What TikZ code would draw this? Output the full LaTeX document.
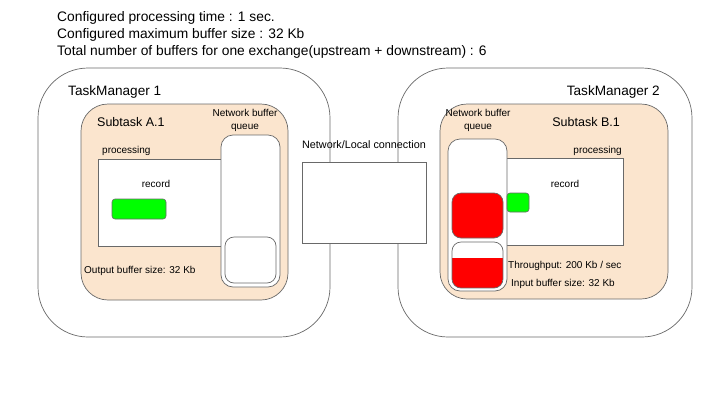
\documentclass[tikz,border=0pt]{standalone}
\usepackage{fontspec}
\setmainfont{Liberation Sans}
\usetikzlibrary{positioning}
\definecolor{peach}{RGB}{251,229,206}
\definecolor{edgegrey}{RGB}{105,105,105}
\definecolor{recgreen}{RGB}{0,255,0}
\definecolor{bufred}{RGB}{255,0,0}
\tikzset{
  tmbox/.style={draw=edgegrey, fill=white, rounded corners=50pt, line width=0.7pt},
  subbox/.style={draw=edgegrey, fill=peach, rounded corners=27pt, line width=0.7pt},
  procbox/.style={draw=edgegrey, fill=white, line width=0.7pt},
  queuebox/.style={draw=edgegrey, fill=white, rounded corners=12pt, line width=0.7pt},
  slotbox/.style={draw=edgegrey, rounded corners=9pt, line width=0.7pt},
  recbox/.style={draw=edgegrey, fill=recgreen, rounded corners=3pt, line width=0.6pt},
  toptxt/.style={font=\fontsize{13.8}{16}\selectfont, inner sep=0pt},
  bigtxt/.style={font=\fontsize{13.6}{16}\selectfont, inner sep=0pt},
  midtxt/.style={font=\fontsize{12.5}{15}\selectfont, inner sep=0pt},
  smalltxt/.style={font=\fontsize{10}{13}\selectfont, inner sep=0pt}
}

\begin{document}
\begin{tikzpicture}[x=1pt, y=-1pt]
    \useasboundingbox (0,0) rectangle (720,405);

    % Configuration text
    \node[toptxt, anchor=base west] (cfgtime) at (57,21) {Configured processing time : 1 sec.};
    \node[toptxt, anchor=base west] (cfgsize) at (57,38) {Configured maximum buffer size : 32 Kb};
    \node[toptxt, anchor=base west] (cfgbufs) at (57,55) {Total number of buffers for one exchange(upstream + downstream) : 6};

    % Task managers
    \draw[tmbox] (38,68) rectangle (330,337);
    \draw[tmbox] (398,68) rectangle (692,337);
    \node[bigtxt, anchor=base west] (tmone) at (68,95) {TaskManager 1};
    \node[bigtxt, anchor=base east] (tmtwo) at (660,95) {TaskManager 2};

    % Network / local connection
    \draw[procbox] (302,162) rectangle (426,243);
    \node[smalltxt, font=\fontsize{10.8}{13}\selectfont, anchor=base] (netlabel) at (364,148) {Network/Local connection};

    % Subtask A.1 (sender)
    \draw[subbox] (81,104) rectangle (288,300);
    \node[midtxt, anchor=base west] (subA) at (97,126) {Subtask A.1};
    \node[smalltxt, anchor=base west] (procA) at (102,153) {processing};
    \draw[procbox] (98,159) rectangle (240,246);
    \node[smalltxt, anchor=base] (recA) at (156,187) {record};
    \draw[recbox] (112,199) rectangle (166,219);
    \node[smalltxt, align=center] (queueA) at (245,120) {Network buffer\\queue};
    \draw[queuebox] (221,135) rectangle (280,287);
    \draw[slotbox, fill=white] (225,237) rectangle (276,283);
    \node[smalltxt, anchor=base west] (outsize) at (84,273) {Output buffer size: 32 Kb};

    % Subtask B.1 (receiver)
    \draw[subbox] (440,104) rectangle (668,299);
    \node[midtxt, anchor=base east] (subB) at (620,126) {Subtask B.1};
    \node[smalltxt, anchor=base east] (procB) at (622,153) {processing};
    \draw[procbox] (490,158) rectangle (623,245);
    \node[smalltxt, anchor=base] (recB) at (565,187) {record};
    \node[smalltxt, align=center] (queueB) at (478,120) {Network buffer\\queue};
    \draw[queuebox] (448,139) rectangle (507,291);
    \draw[slotbox, fill=bufred] (452,193) rectangle (503,238);
    \begin{scope}
        \clip[rounded corners=9pt] (452,242) rectangle (503,288);
        \fill[white] (452,242) rectangle (503,288);
        \fill[bufred] (452,258) rectangle (503,288);
    \end{scope}
    \draw[slotbox] (452,242) rectangle (503,288);
    \draw[recbox] (507,193) rectangle (529,212);
    \node[smalltxt, anchor=base west] (thruput) at (508,268) {Throughput: 200 Kb / sec};
    \node[smalltxt, anchor=base west] (insize) at (511,286) {Input buffer size: 32 Kb};
\end{tikzpicture}
\end{document}
